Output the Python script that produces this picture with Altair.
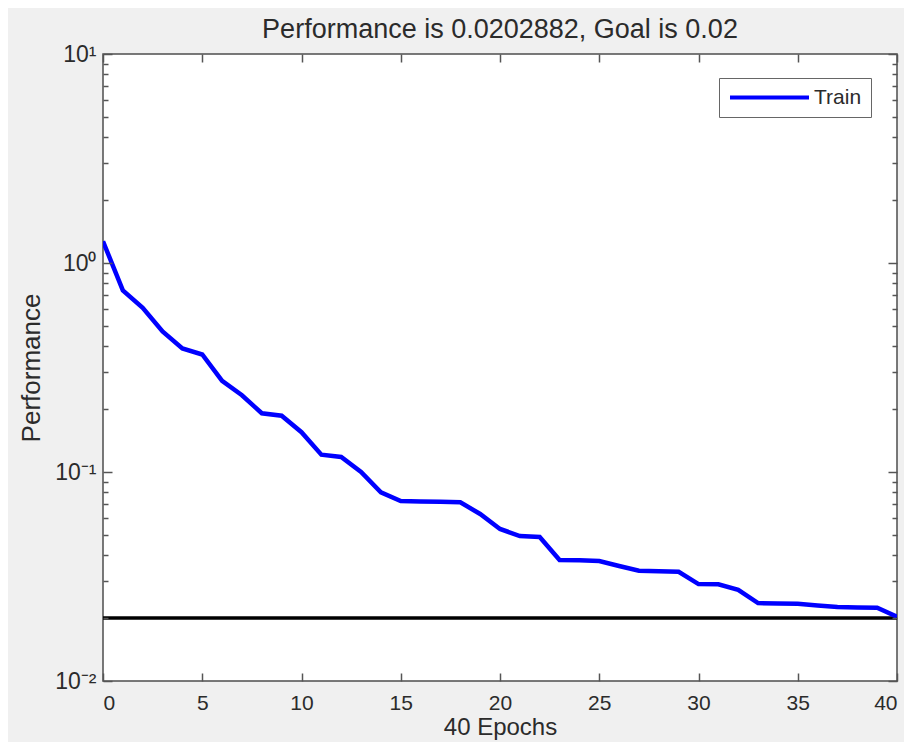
import altair as alt
import pandas as pd

# ---- data ----
epochs = list(range(41))
train_perf = [1.27, 0.74, 0.61, 0.47, 0.39, 0.365, 0.273, 0.233, 0.191, 0.186,
              0.155, 0.121, 0.118, 0.100, 0.080, 0.0727, 0.0722, 0.0720, 0.0716, 0.063,
              0.0534, 0.0494, 0.0489, 0.0379, 0.0378, 0.0375, 0.0355, 0.0337, 0.0335, 0.0333,
              0.0291, 0.0290, 0.0273, 0.0236, 0.0235, 0.0234, 0.0230, 0.0226, 0.0225, 0.0224,
              0.0202882]
series_name = "Train"
goal_value = [0.02]
x_ticks = [0, 5, 10, 15, 20, 25, 30, 35, 40]
y_major = [0.01, 0.1, 1, 10]
y_tick_labels = ["10\u207b\u00b2", "10\u207b\u00b9", "10\u2070", "10\u00b9"]
y_minor = [m * 10.0 ** k for k in (-2, -1, 0) for m in range(2, 10)]
title_text = "Performance is 0.0202882, Goal is 0.02"
x_title = "40 Epochs"
y_title = "Performance"

W, H = 794, 627
FONT = "Liberation Sans"
TXT = "#2b2b2b"
TICK = "#555555"

df = pd.DataFrame({"epoch": epochs, "perf": train_perf, "series": series_name})
goal_df = pd.DataFrame({"goal": goal_value})

# label expression built from the tick label list
expr = "'" + y_tick_labels[-1] + "'"
for v, lab in reversed(list(zip(y_major[:-1], y_tick_labels[:-1]))):
    expr = f"datum.value <= {v * 1.5} ? '{lab}' : " + expr

xs = alt.Scale(domain=[0, 40], nice=False, zero=False)
ys = alt.Scale(type="log", domain=[0.01, 10], nice=False)

def tick_axis(orient, values, size, offset):
    return alt.Axis(orient=orient, values=values, tickSize=size, labels=False,
                    domain=False, title=None, offset=offset, tickColor=TICK,
                    tickWidth=1.5, grid=False, zindex=1)

# layer 1: the training curve, with main labelled axes and the legend
line = alt.Chart(df).mark_line(strokeWidth=4.5, clip=True).encode(
    x=alt.X("epoch:Q", scale=xs,
            axis=alt.Axis(orient="bottom", values=x_ticks, ticks=False, domain=False,
                          grid=False, title=x_title, labelFontSize=21, titleFontSize=24,
                          labelPadding=11, titlePadding=2, labelColor=TXT, titleColor=TXT,
                          labelFont=FONT, titleFont=FONT, titleFontWeight="normal")),
    y=alt.Y("perf:Q", scale=ys,
            axis=alt.Axis(orient="left", values=y_major, labelExpr=expr, ticks=False,
                          domain=False, grid=False, title=y_title, labelFontSize=23,
                          titleFontSize=26, labelPadding=7, titlePadding=10,
                          labelColor=TXT, titleColor=TXT, labelFont=FONT, titleFont=FONT,
                          titleFontWeight="normal")),
    color=alt.Color("series:N",
                    scale=alt.Scale(domain=[series_name], range=["#0000ff"]),
                    legend=alt.Legend(title=None, orient="none", legendX=616, legendY=24,
                                      symbolType="stroke", symbolSize=6241,
                                      symbolStrokeWidth=4, labelFontSize=21,
                                      labelFont=FONT, labelColor=TXT, labelOffset=3,
                                      padding=9, clipHeight=21, fillColor="white",
                                      strokeColor="#666666", symbolOffset=0)),
)

# layer 2: goal line, inward ticks at the left edge
goal = alt.Chart(goal_df).mark_rule(color="black", strokeWidth=3.5).encode(
    y=alt.Y("goal:Q", scale=ys, axis=tick_axis("right", y_major, 9, -W)),
    x=alt.value(0), x2=alt.value(W),
)

# invisible carriers for the remaining inward ticks
base = alt.Chart(df).mark_point(opacity=0)
l3 = base.encode(
    x=alt.X("epoch:Q", scale=xs, axis=tick_axis("top", x_ticks, 8, -H)),
    y=alt.Y("perf:Q", scale=ys, axis=tick_axis("right", y_minor, 5, -W)),
)
l4 = base.encode(
    x=alt.X("epoch:Q", scale=xs, axis=tick_axis("bottom", x_ticks, 8, -H)),
    y=alt.Y("perf:Q", scale=ys, axis=tick_axis("left", y_major, 9, -W)),
)
l5 = base.encode(
    x=alt.X("epoch:Q", scale=xs, axis=None),
    y=alt.Y("perf:Q", scale=ys, axis=tick_axis("left", y_minor, 5, -W)),
)

chart = alt.layer(goal, line, l3, l4, l5).resolve_axis(
    x="independent", y="independent"
).properties(
    width=W, height=H,
    padding={"left": 95, "top": 46, "right": 7, "bottom": 61},
    autosize=alt.AutoSizeParams(type="none"),
    title=alt.Title(title_text, fontSize=27, font=FONT, fontWeight="normal",
                    color=TXT, anchor="middle", offset=-1),
    background="#f0f0f0",
).configure_view(
    fill="white", stroke="#4d4d4d", strokeWidth=1.5
)

chart.save("out.html", embed_options={"renderer": "svg", "actions": False})
